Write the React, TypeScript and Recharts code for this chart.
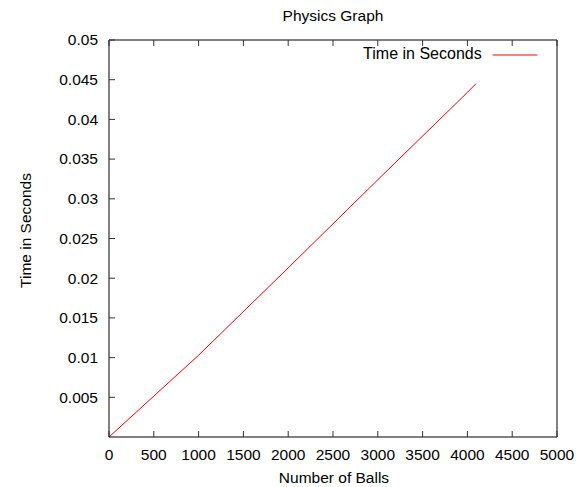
import React from "react";
import { LineChart, Line, XAxis, YAxis, Legend } from "recharts";

const ballCounts = [0, 1000, 2000, 3000, 4000, 4096];
const timeSeconds = [0, 0.0103, 0.0213, 0.0324, 0.0434, 0.0445];
const xTicks = [0, 500, 1000, 1500, 2000, 2500, 3000, 3500, 4000, 4500, 5000];
const yTicks = [0.005, 0.01, 0.015, 0.02, 0.025, 0.03, 0.035, 0.04, 0.045, 0.05];
const seriesName = "Time in Seconds";
const titleText = "Physics Graph";
const xLabelText = "Number of Balls";
const yLabelText = "Time in Seconds";

const data = ballCounts.map((b, i) => ({ balls: b, time: timeSeconds[i] }));

const FONT = '"Liberation Sans", Arial, Helvetica, sans-serif';
const FS = 15.5;
const TICK_LEN = 6;
const TICK_COLOR = "#333";

const BottomTick = (props: any) => {
  const { x, y, payload } = props;
  return (
    <g>
      <line x1={x} y1={y} x2={x} y2={y - TICK_LEN} stroke={TICK_COLOR} />
      <text x={x} y={y + 22.5} textAnchor="middle" fontFamily={FONT} fontSize={FS} fill="#000">
        {payload.value}
      </text>
    </g>
  );
};

const TopTick = (props: any) => {
  const { x, y } = props;
  return <line x1={x} y1={y} x2={x} y2={y + TICK_LEN} stroke={TICK_COLOR} />;
};

const LeftTick = (props: any) => {
  const { x, y, payload } = props;
  return (
    <g>
      <line x1={x} y1={y} x2={x + TICK_LEN} y2={y} stroke={TICK_COLOR} />
      <text x={x - 11} y={y + 5.3} textAnchor="end" fontFamily={FONT} fontSize={FS} fill="#000">
        {String(payload.value)}
      </text>
    </g>
  );
};

const RightTick = (props: any) => {
  const { x, y } = props;
  return <line x1={x} y1={y} x2={x - TICK_LEN} y2={y} stroke={TICK_COLOR} />;
};

const TitleLabel = (props: any) => {
  const vb = props.viewBox || {};
  return (
    <text x={vb.x + vb.width / 2} y={vb.y - 9.5} textAnchor="middle" fontFamily={FONT} fontSize={FS} fill="#000">
      {titleText}
    </text>
  );
};

const XLabel = (props: any) => {
  const vb = props.viewBox || {};
  return (
    <text x={vb.x + vb.width / 2 + 1} y={vb.y + 46} textAnchor="middle" fontFamily={FONT} fontSize={FS} fill="#000">
      {xLabelText}
    </text>
  );
};

const YLabel = (props: any) => {
  const vb = props.viewBox || {};
  const cx = 22.6;
  const cy = vb.y + vb.height / 2 - 8;
  return (
    <text
      x={cx}
      y={cy}
      transform={`rotate(-90, ${cx}, ${cy})`}
      textAnchor="middle"
      fontFamily={FONT}
      fontSize={FS}
      fill="#000"
    >
      {yLabelText}
    </text>
  );
};

const LegendContent = () => (
  <svg width={180} height={20} style={{ display: "block", overflow: "visible" }}>
    <text x={118.7} y={14} textAnchor="end" fontFamily={FONT} fontSize={16} fill="#000">
      {seriesName}
    </text>
    <line x1={129.7} y1={10} x2={174.3} y2={10} stroke="#ff0000" strokeWidth={1} />
  </svg>
);

export default function App() {
  return (
    <div style={{ width: 576, height: 479, background: "#fff" }}>
      <LineChart
        width={576}
        height={479}
        data={data}
        margin={{ top: 22, right: 17, left: 41, bottom: 20 }}
      >
        <XAxis
          dataKey="balls"
          type="number"
          domain={[0, 5000]}
          ticks={xTicks}
          interval={0}
          tickSize={0}
          tickMargin={0}
          tickLine={false}
          tick={<BottomTick />}
          axisLine={{ stroke: "#000", strokeWidth: 1 }}
          height={30}
          label={<XLabel />}
        />
        <XAxis
          xAxisId="top"
          orientation="top"
          dataKey="balls"
          type="number"
          domain={[0, 5000]}
          ticks={xTicks}
          interval={0}
          tickSize={0}
          tickMargin={0}
          tickLine={false}
          tick={<TopTick />}
          axisLine={{ stroke: "#000", strokeWidth: 1 }}
          height={10}
          label={<TitleLabel />}
        />
        <YAxis
          type="number"
          domain={[0, 0.05]}
          ticks={yTicks}
          interval={0}
          tickSize={0}
          tickMargin={0}
          tickLine={false}
          tick={<LeftTick />}
          axisLine={{ stroke: "#000", strokeWidth: 1 }}
          width={60}
          label={<YLabel />}
        />
        <YAxis
          yAxisId="right"
          orientation="right"
          type="number"
          domain={[0, 0.05]}
          ticks={yTicks}
          interval={0}
          tickSize={0}
          tickMargin={0}
          tickLine={false}
          tick={<RightTick />}
          axisLine={{ stroke: "#000", strokeWidth: 1 }}
          width={10}
        />
        <Legend
          layout="horizontal"
          verticalAlign="middle"
          align="center"
          content={<LegendContent />}
          wrapperStyle={{ top: 37, left: 355, width: 180, height: 20 }}
        />
        <Line
          type="linear"
          dataKey="time"
          name={seriesName}
          stroke="#ff0000"
          strokeWidth={1}
          dot={false}
          activeDot={false}
          isAnimationActive={false}
        />
      </LineChart>
    </div>
  );
}
